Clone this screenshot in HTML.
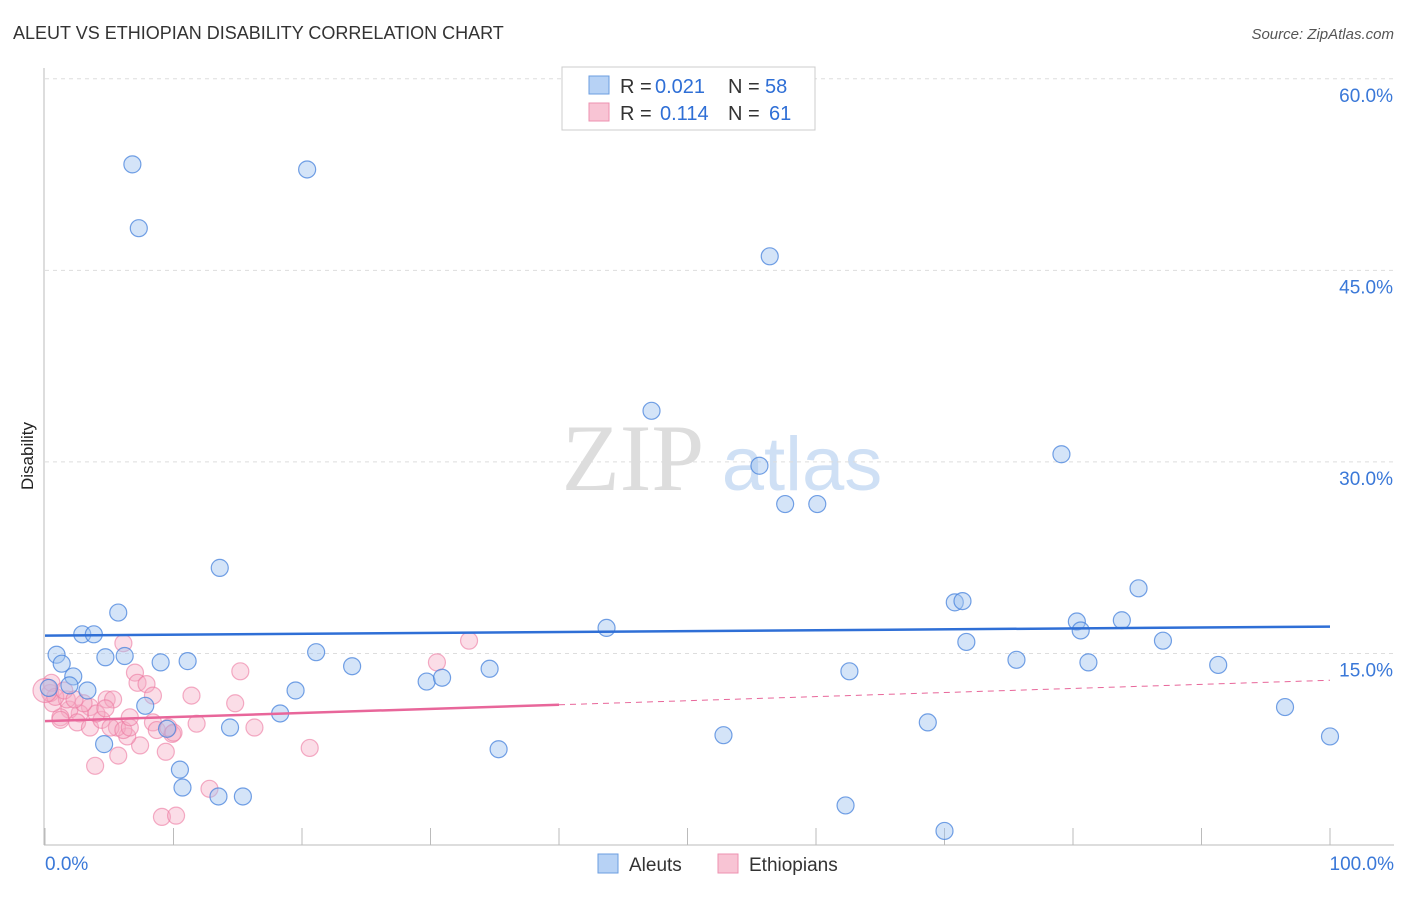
<!DOCTYPE html>
<html><head><meta charset="utf-8"><style>
body{margin:0;background:#fff;font-family:"Liberation Sans",sans-serif;}
</style></head><body>
<svg width="1406" height="892" xmlns="http://www.w3.org/2000/svg">
<text x="13" y="39" font-size="18" fill="#333">ALEUT VS ETHIOPIAN DISABILITY CORRELATION CHART</text>
<text x="1394" y="39" font-size="15" fill="#555" font-style="italic" text-anchor="end">Source: ZipAtlas.com</text>
<text x="33" y="456" font-size="17" fill="#222" transform="rotate(-90 33 456)" text-anchor="middle">Disability</text>
<g id="wm">
<text x="633" y="490" font-size="95" fill="#ddd" font-family="Liberation Serif,serif" text-anchor="middle">ZIP</text>
<text x="802" y="490" font-size="76" fill="#cfe0f5" text-anchor="middle">atlas</text>
</g>
<g id="grid"></g><g id="axes"></g><g id="pts"></g><g id="lines"></g>
<g>
<rect x="562" y="67" width="253" height="63" fill="#fff" stroke="#ccc"/>
<rect x="589" y="76" width="20" height="18" fill="#b7d2f5" stroke="#6b9ee0"/>
<rect x="589" y="103" width="20" height="18" fill="#f8c4d4" stroke="#ee92b0"/>
<text x="620" y="93" font-size="20" fill="#333">R =</text>
<text x="655" y="93" font-size="20" fill="#2f6fd6">0.021</text>
<text x="728" y="93" font-size="20" fill="#333">N =</text>
<text x="765" y="93" font-size="20" fill="#2f6fd6">58</text>
<text x="620" y="120" font-size="20" fill="#333">R =</text>
<text x="660" y="120" font-size="20" fill="#2f6fd6">0.114</text>
<text x="728" y="120" font-size="20" fill="#333">N =</text>
<text x="769" y="120" font-size="20" fill="#2f6fd6">61</text>
</g>
<g>
<rect x="598" y="854" width="20" height="19" fill="#b7d2f5" stroke="#6b9ee0"/>
<text x="629" y="871" font-size="19" fill="#333">Aleuts</text>
<rect x="718" y="854" width="20" height="19" fill="#f8c4d4" stroke="#ee92b0"/>
<text x="749" y="871" font-size="19" fill="#333">Ethiopians</text>
</g>
</svg>
<script>
const yTicks=[15,30,45,60];
const xTickVals=[0,10,20,30,40,50,60,70,80,90,100];
const aleutX=[6.8,20.4,7.3,56.4,47.2,79.1,55.6,57.6,60.1,13.6,85.1,5.7,70.8,71.4,80.3,83.8,43.7,80.6,2.9,3.8,71.7,87.0,0.9,21.1,4.7,6.2,1.3,9.0,11.1,23.9,34.6,75.6,81.2,62.6,91.3,2.2,1.9,3.3,19.5,29.7,30.9,7.8,18.3,96.5,68.7,14.4,9.5,4.6,52.8,35.3,100,10.5,10.7,13.5,15.4,62.3,70.0,0.3];
const aleutY=[53.3,52.9,48.3,46.1,34.0,30.6,29.7,26.7,26.7,21.7,20.1,18.2,19.0,19.1,17.5,17.6,17.0,16.8,16.5,16.5,15.9,16.0,14.9,15.1,14.7,14.8,14.2,14.3,14.4,14.0,13.8,14.5,14.3,13.6,14.1,13.2,12.5,12.1,12.1,12.8,13.1,10.9,10.3,10.8,9.6,9.2,9.1,7.9,8.6,7.5,8.5,5.9,4.5,3.8,3.8,3.1,1.1,12.3];
const ethX=[6.1,15.2,7.0,7.2,7.9,8.4,11.4,14.8,11.8,16.3,20.6,9.4,5.7,3.9,12.8,9.1,10.2,9.9,7.4,6.4,5.6,4.8,5.3,3.5,2.7,1.9,1.2,0.6,0.4,0.5,2.5,3.5,4.4,5.1,6.1,6.6,4.0,4.7,8.4,8.7,9.6,10.0,6.6,3.0,1.7,1.2,0.8,33.0,30.5,0,1.5,2.3];
const ethY=[15.8,13.6,13.5,12.7,12.6,11.7,11.7,11.1,9.5,9.2,7.6,7.3,7.0,6.2,4.4,2.2,2.3,8.7,7.8,8.5,9.2,11.4,11.4,10.8,10.3,10.6,10.0,11.1,11.9,12.7,9.6,9.2,9.8,9.2,9.0,9.2,10.3,10.7,9.6,9.0,9.2,8.8,10.0,11.1,11.4,9.8,11.6,16.0,14.3,12.1,12.1,11.4];
const aleutFit=[16.4,17.1];
const ethFit=[9.7,12.9];
const ethSolidEnd=40;
const X=v=>45+v*12.85, Y=v=>845-v*12.77;
const NS='http://www.w3.org/2000/svg';
function mk(t,a,p){const e=document.createElementNS(NS,t);for(const k in a)e.setAttribute(k,a[k]);document.getElementById(p).appendChild(e);return e;}
yTicks.forEach(t=>{
 const l=mk('line',{x1:45,x2:1394,y1:Y(t),y2:Y(t),stroke:'#ddd','stroke-dasharray':'4,4'},'grid');
 
 
 const tx=mk('text',{x:1393,y:Y(t)+23,'font-size':19,fill:'#3a78d8','text-anchor':'end'},'grid');tx.textContent=t.toFixed(1)+'%';
 
 
});
mk('line',{x1:44,x2:44,y1:68,y2:845,stroke:'#bbb'},'axes');
mk('line',{x1:44,x2:1394,y1:845,y2:845,stroke:'#bbb'},'axes');
xTickVals.forEach(t=>{const l=mk('line',{x1:X(t),x2:X(t),y1:828,y2:845,stroke:'#bbb'},'axes');
 
 });
let a=mk('text',{x:45,y:870,'font-size':19,fill:'#3a78d8'},'axes');a.textContent='0.0%';


a=mk('text',{x:1394,y:870,'font-size':19,fill:'#3a78d8','text-anchor':'end'},'axes');a.textContent='100.0%';


ethX.forEach((x,i)=>{const c=mk('circle',{cx:X(x),cy:Y(ethY[i]),r:i==49?12:8.5,fill:'rgba(246,170,196,0.4)',stroke:'rgba(236,120,160,0.6)','stroke-width':1.2},'pts');
 
 });
aleutX.forEach((x,i)=>{const c=mk('circle',{cx:X(x),cy:Y(aleutY[i]),r:8.5,fill:'rgba(160,195,240,0.45)',stroke:'rgba(70,130,220,0.75)','stroke-width':1.2},'pts');
 
 });
let l=mk('line',{x1:X(0),x2:X(100),y1:Y(aleutFit[0]),y2:Y(aleutFit[1]),stroke:'#2f6fd6','stroke-width':2.5},'lines');


const ey=v=>ethFit[0]+(ethFit[1]-ethFit[0])*v/100;
l=mk('line',{x1:X(0),x2:X(ethSolidEnd),y1:Y(ey(0)),y2:Y(ey(ethSolidEnd)),stroke:'#e8669a','stroke-width':2.5},'lines');


l=mk('line',{x1:X(ethSolidEnd),x2:X(100),y1:Y(ey(ethSolidEnd)),y2:Y(ey(100)),stroke:'#e8669a','stroke-width':1,'stroke-dasharray':'6,5'},'lines');


</script>
</body></html>
